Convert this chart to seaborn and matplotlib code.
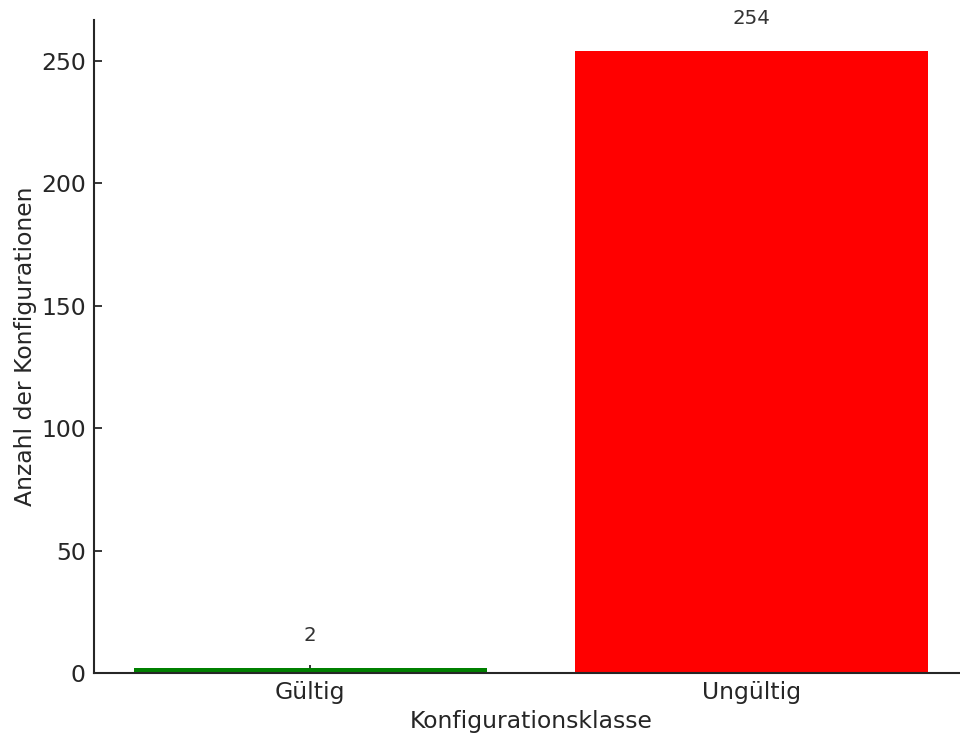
import matplotlib
matplotlib.use("Agg")
import matplotlib.pyplot as plt
import seaborn as sns
import pandas as pd

categories = ["Gültig", "Ungültig"]
counts = [2, 254]
bar_colors = ["green", "red"]

sns.set_style("ticks")
plt.rcParams["font.family"] = ["DejaVu Sans"]

df = pd.DataFrame({"Konfigurationsklasse": categories, "Anzahl": counts})

fig = plt.figure(figsize=(9.6, 7.34), dpi=100)
ax = fig.add_axes([94 / 960, 1 - 673 / 734, (968 - 94) / 960, (673 - 20) / 734])

sns.barplot(data=df, x="Konfigurationsklasse", y="Anzahl", hue="Konfigurationsklasse",
            palette=bar_colors, saturation=1, width=0.8, legend=False, ax=ax,
            linewidth=0, edgecolor="none")

ax.set_xlim(-0.49, 1.49)
ax.set_ylim(0, max(counts) * 1.05)

for i, v in enumerate(counts):
    ax.text(i, v + 13.4, str(v), ha="center", va="center", fontsize=14.2, color="#333333")

ax.set_xlabel("Konfigurationsklasse", fontsize=16.9, color="#262626", labelpad=4)
ax.set_ylabel("Anzahl der Konfigurationen", fontsize=16.9, color="#262626", labelpad=3)
ax.tick_params(axis="both", direction="in", length=6, width=1.3, labelsize=16.9,
               colors="#262626", pad=6)
for s in ["top", "right"]:
    ax.spines[s].set_visible(False)
for s in ["left", "bottom"]:
    ax.spines[s].set_linewidth(1.5)
    ax.spines[s].set_color("#262626")

fig.savefig("out.png", dpi=100)
